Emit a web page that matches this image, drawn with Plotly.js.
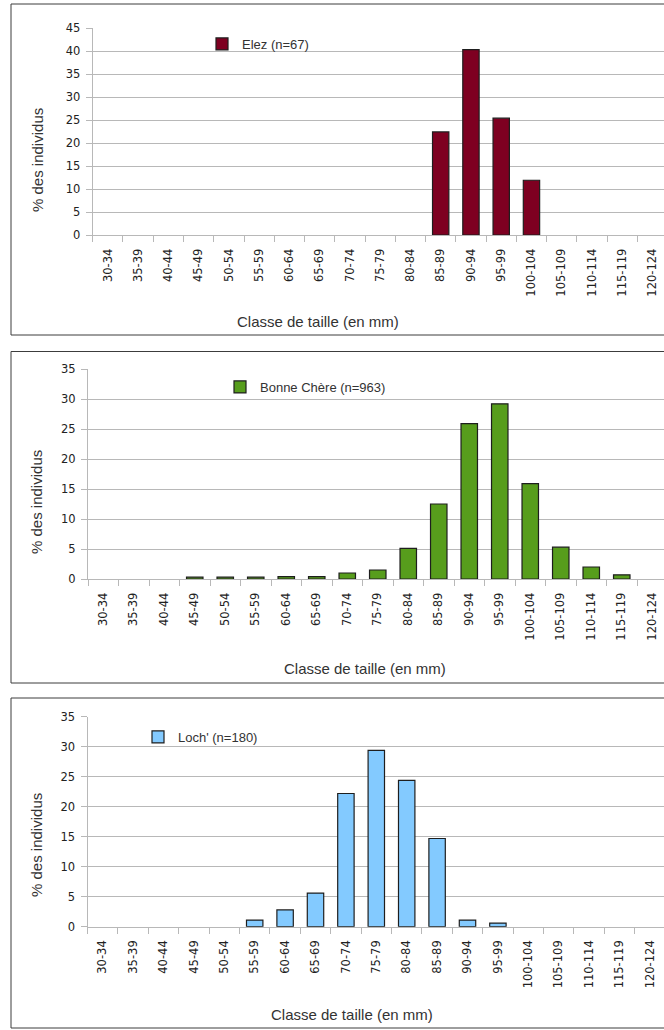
<!DOCTYPE html>
<html>
<head>
<meta charset="utf-8">
<script src="https://cdn.plot.ly/plotly-3.0.1.min.js"></script>
<style>
  html, body { margin: 0; padding: 0; background: #ffffff; overflow: hidden; }
  #chart { width: 664px; height: 1030px; }
</style>
</head>
<body>
<div id="chart"></div>
<script>
// ---- Data ----
const categories = ['30-34','35-39','40-44','45-49','50-54','55-59','60-64','65-69','70-74','75-79',
                    '80-84','85-89','90-94','95-99','100-104','105-109','110-114','115-119','120-124'];
const elezValues = [0,0,0,0,0,0,0,0,0,0,0,22.4,40.3,25.4,11.9,0,0,0,0];
const bonneChereValues = [0,0,0,0.3,0.3,0.3,0.4,0.4,1.0,1.5,5.1,12.5,25.9,29.2,15.9,5.3,2.0,0.7,0];
const lochValues = [0,0,0,0,0,1.1,2.8,5.6,22.2,29.4,24.4,14.7,1.1,0.6,0,0,0,0,0];
const seriesNames = ['Elez (n=67)', 'Bonne Chère (n=963)', "Loch' (n=180)"];
const yTitle = '% des individus';
const xTitle = 'Classe de taille (en mm)';

// ---- Layout helpers (pixel -> paper) ----
const W = 664, H = 1030;
const px = v => v / W;
const py = v => 1 - v / H;

const colors = ['#7e0021', '#579d1c', '#83caff'];
const panels = [
  { left: 92.7, cw: 30.26, y0: 235, yTop: 28, ymax: 45, frame: [11, 4, 335],
    legend: [202, 29], ytitle: [38, 160], xtitle: [318, 322], values: elezValues },
  { left: 88, cw: 30.5, y0: 579, yTop: 369, ymax: 35, frame: [11, 351.5, 683],
    legend: [220, 372], ytitle: [36, 502], xtitle: [365, 668], values: bonneChereValues },
  { left: 87.5, cw: 30.4, y0: 926.7, yTop: 716.7, ymax: 35, frame: [11, 698, 1028],
    legend: [138, 722], ytitle: [36, 845], xtitle: [351.5, 1014], values: lochValues }
];

const tickFont = { family: 'DejaVu Sans', size: 11.5, color: '#222' };
const titleFont = { family: 'Liberation Sans', size: 15, color: '#333' };
const legendFont = { family: 'Liberation Sans', size: 13, color: '#333' };
const gridC = '#b8b8b8';

const traces = [];
const layout = {
  width: W, height: H,
  margin: { l: 0, r: 0, t: 0, b: 0 },
  paper_bgcolor: '#ffffff', plot_bgcolor: '#ffffff',
  bargap: 0.46,
  showlegend: true,
  shapes: [], annotations: []
};

panels.forEach((p, i) => {
  const n = i + 1;
  const sfx = n === 1 ? '' : String(n);
  traces.push({
    type: 'bar',
    x: categories,
    // empty classes (0 %) are not drawn as bars
    y: p.values.map(v => (v === 0 ? null : v)),
    name: seriesNames[i],
    xaxis: 'x' + sfx,
    yaxis: 'y' + sfx,
    legend: 'legend' + sfx,
    marker: { color: colors[i], line: { color: '#1e1e1e', width: 1.2 } },
    hoverinfo: 'x+y'
  });
  layout['xaxis' + sfx] = {
    type: 'category',
    domain: [px(p.left), 1],
    range: [-0.5, (W - p.left) / p.cw - 0.5],
    anchor: 'y' + sfx,
    tickson: 'boundaries',
    ticks: 'outside', ticklen: 6, tickcolor: gridC, tickwidth: 1,
    tickangle: -90,
    tickfont: tickFont,
    ticklabelstandoff: 8,
    showline: true, linecolor: gridC, linewidth: 1,
    showgrid: false, zeroline: false, fixedrange: true
  };
  layout['yaxis' + sfx] = {
    domain: [py(p.y0), py(p.yTop)],
    range: [0, p.ymax],
    dtick: 5,
    anchor: 'x' + sfx,
    ticks: 'outside', ticklen: 6, tickcolor: gridC, tickwidth: 1,
    tickfont: tickFont,
    ticklabelstandoff: 3,
    showline: true, linecolor: gridC, linewidth: 1,
    showgrid: true, gridcolor: gridC, gridwidth: 1,
    zeroline: false, fixedrange: true
  };
  layout['legend' + sfx] = {
    x: px(p.legend[0]), y: py(p.legend[1]),
    xanchor: 'left', yanchor: 'top',
    bgcolor: 'rgba(0,0,0,0)', borderwidth: 0,
    font: legendFont
  };
  layout.shapes.push({
    type: 'rect', xref: 'paper', yref: 'paper',
    x0: px(p.frame[0]), x1: px(W + 20), y0: py(p.frame[2]), y1: py(p.frame[1]),
    line: { color: '#3c3c3c', width: 1 }, fillcolor: 'rgba(0,0,0,0)', layer: 'above'
  });
  layout.annotations.push({
    xref: 'paper', yref: 'paper', x: px(p.ytitle[0]), y: py(p.ytitle[1]),
    text: yTitle, textangle: -90, showarrow: false,
    xanchor: 'center', yanchor: 'middle', font: titleFont
  });
  layout.annotations.push({
    xref: 'paper', yref: 'paper', x: px(p.xtitle[0]), y: py(p.xtitle[1]),
    text: xTitle, showarrow: false,
    xanchor: 'center', yanchor: 'middle', font: titleFont
  });
});

Plotly.newPlot('chart', traces, layout, { staticPlot: true, displayModeBar: false });
</script>
</body>
</html>
